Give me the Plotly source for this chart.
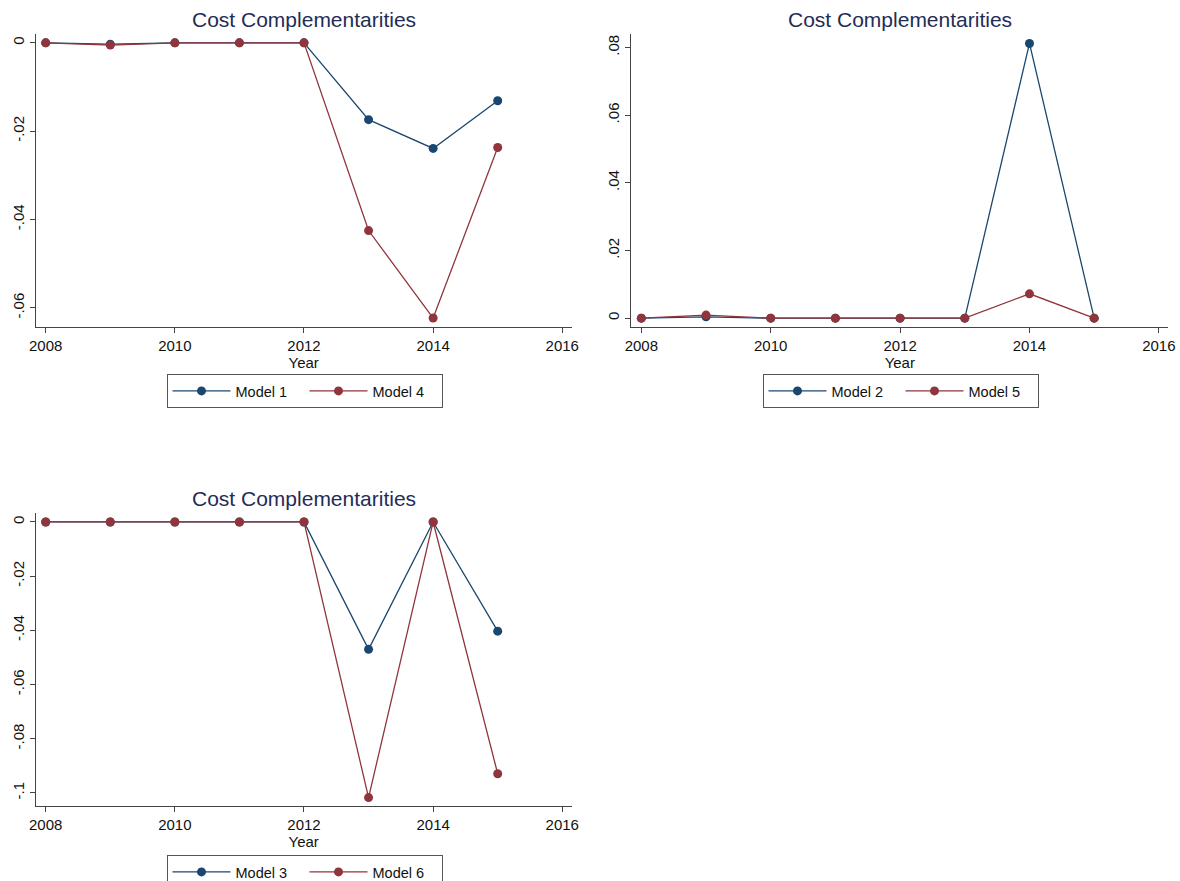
import plotly.graph_objects as go

# ---- data -------------------------------------------------------------
years = [2008, 2009, 2010, 2011, 2012, 2013, 2014, 2015]

model1 = [0.0, -0.0003, 0.0, 0.0, 0.0, -0.0174, -0.0239, -0.0131]
model4 = [0.0, -0.0005, 0.0, 0.0, 0.0, -0.0425, -0.0623, -0.0237]

model2 = [0.0, 0.0004, 0.0, 0.0, 0.0, 0.0, 0.0812, 0.0]
model5 = [0.0, 0.0009, 0.0, 0.0, 0.0, 0.0, 0.0072, 0.0]

model3 = [0.0, 0.0, 0.0, 0.0, 0.0, -0.0470, 0.0, -0.0403]
model6 = [0.0, 0.0, 0.0, 0.0, 0.0, -0.1017, 0.0, -0.0929]

x_ticks = [2008, 2010, 2012, 2014, 2016]
x_ticktext = ["2008", "2010", "2012", "2014", "2016"]

y1_ticks = [0.0, -0.02, -0.04, -0.06]
y1_ticktext = ["0", "-.02", "-.04", "-.06"]
y2_ticks = [0.0, 0.02, 0.04, 0.06, 0.08]
y2_ticktext = ["0", ".02", ".04", ".06", ".08"]
y3_ticks = [0.0, -0.02, -0.04, -0.06, -0.08, -0.1]
y3_ticktext = ["0", "-.02", "-.04", "-.06", "-.08", "-.1"]

title_text = "Cost Complementarities"

# ---- styling ----------------------------------------------------------
W, H = 1180, 881
NAVY = "#1a476f"
MAROON = "#90353b"
TITLE_COLOR = "#1f2d56"
AXIS_COLOR = "#444444"
FONT = "Liberation Sans, Arial, sans-serif"


def px_x(p):
    return p / W


def px_y(p):
    return 1 - p / H


fig = go.Figure()


def add_pair(xa, ya, legend, a_vals, a_name, b_vals, b_name):
    for vals, name, color in ((a_vals, a_name, NAVY), (b_vals, b_name, MAROON)):
        fig.add_trace(go.Scatter(
            x=years, y=vals, name=name, mode="lines+markers",
            line=dict(color=color, width=1.3),
            marker=dict(color=color, size=9, symbol="circle"),
            xaxis=xa, yaxis=ya, legend=legend, cliponaxis=False,
        ))


add_pair("x", "y", "legend", model1, "Model 1", model4, "Model 4")
add_pair("x2", "y2", "legend2", model2, "Model 2", model5, "Model 5")
add_pair("x3", "y3", "legend3", model3, "Model 3", model6, "Model 6")

x_range = [2007.845, 2016.146]
left_dom = [px_x(35.7), px_x(571.7)]
right_dom = [px_x(631.3), px_x(1168.3)]
top_dom = [px_y(327.3), px_y(34)]
bot_dom = [px_y(806), px_y(513.3)]

common_x = dict(
    range=x_range, tickvals=x_ticks, ticktext=x_ticktext,
    showline=True, linecolor=AXIS_COLOR, linewidth=1,
    ticks="outside", ticklen=5, tickcolor=AXIS_COLOR, tickwidth=1,
    showgrid=False, zeroline=False,
    tickfont=dict(family=FONT, size=15, color="#111111"),
    title=dict(text="Year", font=dict(family=FONT, size=15, color="#111111"), standoff=0),
)
common_y = dict(
    showline=True, linecolor=AXIS_COLOR, linewidth=1,
    ticks="outside", ticklen=5, tickcolor=AXIS_COLOR, tickwidth=1,
    showgrid=False, zeroline=False, tickangle=-90,
    tickfont=dict(family=FONT, size=15, color="#111111"),
)

fig.update_layout(
    xaxis=dict(domain=left_dom, anchor="y", **common_x),
    yaxis=dict(domain=top_dom, anchor="x", range=[-0.0644, 0.0020],
               tickvals=y1_ticks, ticktext=y1_ticktext, **common_y),
    xaxis2=dict(domain=right_dom, anchor="y2", **common_x),
    yaxis2=dict(domain=top_dom, anchor="x2", range=[-0.0027, 0.0840],
                tickvals=y2_ticks, ticktext=y2_ticktext, **common_y),
    xaxis3=dict(domain=left_dom, anchor="y3", **common_x),
    yaxis3=dict(domain=bot_dom, anchor="x3", range=[-0.1048, 0.0032],
                tickvals=y3_ticks, ticktext=y3_ticktext, **common_y),
)

legend_style = dict(
    orientation="h", xanchor="center", yanchor="top",
    bordercolor="#555555", borderwidth=1, bgcolor="white",
    font=dict(family=FONT, size=14.5, color="#111111"),
    itemwidth=58, entrywidth=64, entrywidthmode="pixels",
    itemclick=False, itemdoubleclick=False,
)
fig.update_layout(
    legend=dict(x=px_x(304.5), y=px_y(374), **legend_style),
    legend2=dict(x=px_x(900.5), y=px_y(374), **legend_style),
    legend3=dict(x=px_x(304.5), y=px_y(855), **legend_style),
)

for cx, cy in ((303.7, 19.5), (899.8, 19.5), (303.7, 498.3)):
    fig.add_annotation(
        text=title_text, x=px_x(cx), y=px_y(cy), xref="paper", yref="paper",
        xanchor="center", yanchor="middle", showarrow=False,
        font=dict(family=FONT, size=21, color=TITLE_COLOR),
    )

fig.update_layout(
    width=W, height=H,
    margin=dict(l=0, r=0, t=0, b=0, autoexpand=False),
    paper_bgcolor="white", plot_bgcolor="white",
    showlegend=True,
)

fig.write_html("out.html", config={"displayModeBar": False})
